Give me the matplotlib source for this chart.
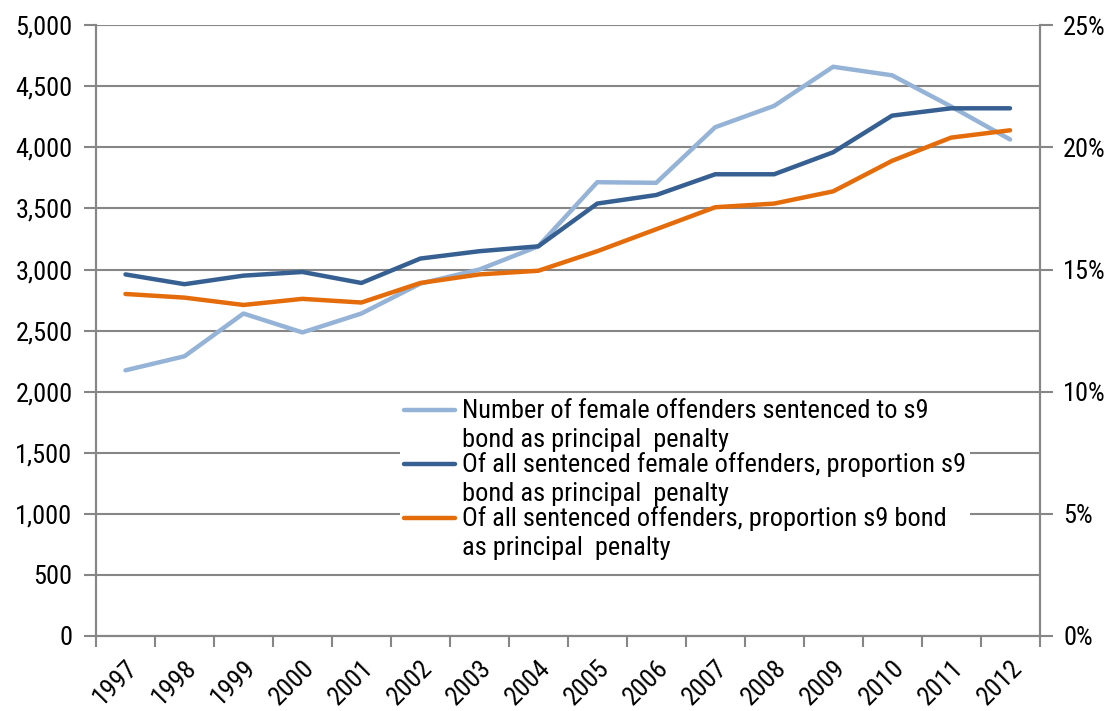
import numpy as np
import matplotlib
matplotlib.use('Agg')
import matplotlib.pyplot as plt
from matplotlib.ticker import FuncFormatter, MultipleLocator
from matplotlib.legend_handler import HandlerLine2D

plt.rcParams['font.family'] = ['Roboto Condensed', 'DejaVu Sans']

years = ['1997', '1998', '1999', '2000', '2001', '2002', '2003', '2004',
         '2005', '2006', '2007', '2008', '2009', '2010', '2011', '2012']

# number of female offenders given a s9 bond (left axis)
female_count = [2175, 2290, 2640, 2485, 2640, 2885, 3000, 3190,
                3715, 3710, 4165, 4340, 4660, 4590, 4335, 4065]

# proportions in percent (right axis)
female_prop = [14.8, 14.4, 14.75, 14.9, 14.45, 15.45, 15.75, 15.95,
               17.7, 18.05, 18.9, 18.9, 19.8, 21.3, 21.6, 21.6]
all_prop = [14.0, 13.85, 13.55, 13.8, 13.65, 14.45, 14.8, 14.95,
            15.75, 16.65, 17.55, 17.7, 18.2, 19.45, 20.4, 20.7]

labels = ['Number of female offenders sentenced to s9\nbond as principal  penalty',
          'Of all sentenced female offenders, proportion s9\nbond as principal  penalty',
          'Of all sentenced offenders, proportion s9 bond\nas principal  penalty']

grey = '#868686'
fs = 19


class FirstLineHandler(HandlerLine2D):
    # put the legend line next to the first line of a two-line label
    def create_artists(self, legend, orig_handle, xdescent, ydescent,
                       width, height, fontsize, trans):
        arts = super().create_artists(legend, orig_handle, xdescent, ydescent,
                                      width, height, fontsize, trans)
        for a in arts:
            a.set_ydata(np.asarray(a.get_ydata()) + fontsize * 0.58)
        return arts


fig = plt.figure(figsize=(11.1, 7.11), dpi=100)
ax = fig.add_axes([0.0865, 0.1055, 0.85, 0.859])
ax2 = ax.twinx()

x = np.arange(len(years))
l1, = ax.plot(x, female_count, color='#95B3D7', lw=3.2, solid_capstyle='round')
l2, = ax2.plot(x, female_prop, color='#376092', lw=3.2, solid_capstyle='round')
l3, = ax2.plot(x, all_prop, color='#E46C0A', lw=3.2, solid_capstyle='round')

ax.set_xlim(-0.5, len(years) - 0.5)
ax.set_ylim(0, 5000)
ax2.set_ylim(0, 25)

ax.yaxis.set_major_locator(MultipleLocator(500))
ax.yaxis.set_major_formatter(FuncFormatter(lambda v, p: f'{v:,.0f}'))
ax2.yaxis.set_major_locator(MultipleLocator(5))
ax2.yaxis.set_major_formatter(FuncFormatter(lambda v, p: f'{v:.0f}%'))

ax.grid(axis='y', color=grey, lw=1.5)
ax.set_axisbelow(True)

ax.set_xticks(x)
ax.set_xticklabels(years, rotation=45, ha='right', rotation_mode='anchor')
ax.set_xticks(np.arange(-0.5, len(years)), minor=True)
ax.tick_params(axis='x', which='major', length=0, pad=14, labelsize=fs)
ax.tick_params(axis='x', which='minor', length=8, width=1.5, color=grey)
ax.tick_params(axis='y', length=9, width=1.5, color=grey, labelsize=fs, pad=8)
ax2.tick_params(axis='y', length=9, width=1.5, color=grey, labelsize=fs, pad=8)

for a in (ax, ax2):
    a.spines['top'].set_visible(False)
    for s in ('left', 'right', 'bottom'):
        a.spines[s].set_color(grey)
        a.spines[s].set_linewidth(1.5)

leg = ax2.legend([l1, l2, l3], labels, loc='upper left',
                 bbox_to_anchor=(400 / 1110, 1 - 395 / 711),
                 bbox_transform=fig.transFigure, fontsize=fs,
                 frameon=True, fancybox=False, framealpha=1,
                 facecolor='white', edgecolor='none', borderpad=0.15,
                 labelspacing=0.0, handlelength=1.95, handletextpad=0.25,
                 borderaxespad=0,
                 handler_map={l1: FirstLineHandler(), l2: FirstLineHandler(),
                              l3: FirstLineHandler()})
for t in leg.get_texts():
    t.set_linespacing(1.27)

fig.savefig('out.png', dpi=100)
